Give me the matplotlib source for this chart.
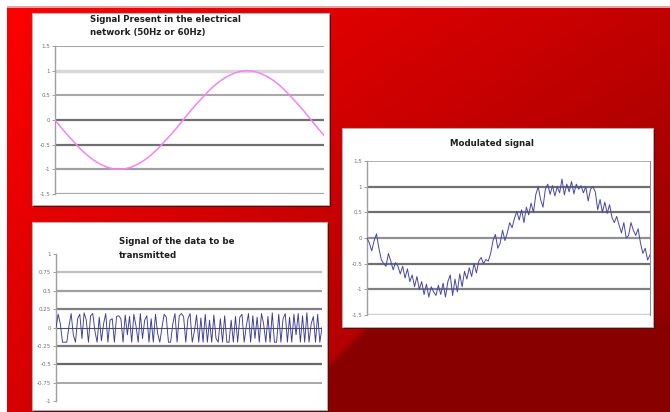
import numpy as np
import matplotlib
matplotlib.use("Agg")
import matplotlib.pyplot as plt
from matplotlib.patches import Rectangle

W, H = 670, 412

# mains carrier, one sample every 9 degrees
carrier = [0, -0.16, -0.31, -0.45, -0.59, -0.71, -0.81, -0.89, -0.95, -0.99, -1,
           -0.99, -0.95, -0.89, -0.81, -0.71, -0.59, -0.45, -0.31, -0.16, 0,
           0.16, 0.31, 0.45, 0.59, 0.71, 0.81, 0.89, 0.95, 0.99, 1,
           0.99, 0.95, 0.89, 0.81, 0.71, 0.59, 0.45, 0.31, 0.16, 0,
           -0.16, -0.31]
carrier_ticks = [1.5, 1, 0.5, 0, -0.5, -1, -1.5]
carrier_labels = ["1.5", "1", "0.5", "0", "-0.5", "-1", "-1.5"]

# data to be sent
data_signal = [0.0, 0.18, 0.05, -0.2, -0.2, -0.2, 0.02, 0.19, -0.1, -0.2, 0.12, 0.18,
               -0.15, 0.2, 0.1, -0.2, 0.16, 0.19, -0.05, -0.2, 0.14, -0.18, 0.05, 0.19,
               -0.2, 0.1, 0.12, -0.2, 0.15, 0.16, 0.12, -0.2, 0.17, -0.1, 0.15, -0.2,
               0.18, 0.02, -0.2, 0.19, -0.15, 0.1, 0.16, -0.2, 0.12, -0.2, 0.18, -0.08,
               -0.2, 0.0, 0.18, 0.14, -0.2, -0.2, 0.05, 0.19, -0.2, 0.16, 0.19, 0.15,
               -0.2, 0.12, 0.19, -0.2, -0.05, 0.17, -0.2, 0.13, -0.2, 0.18, -0.2, 0.1,
               -0.2, 0.17, -0.15, -0.2, 0.12, -0.2, 0.16, -0.2, -0.2, 0.1, -0.2, 0.15,
               -0.2, 0.14, 0.18, -0.2, 0.02, 0.19, -0.2, 0.16, -0.15, 0.14, -0.2, 0.19,
               0.05, -0.2, 0.15, -0.2, 0.2, -0.2, -0.2, 0.18, -0.2, 0.12, 0.19, -0.2,
               0.14, -0.2, 0.18, -0.1, 0.19, -0.2, 0.16, -0.2, 0.2, -0.2, 0.05, 0.15,
               -0.2, 0.18, -0.2, 0.0]
data_ticks = [1, 0.75, 0.5, 0.25, 0, -0.25, -0.5, -0.75, -1]
data_labels = ["1", "0.75", "0.5", "0.25", "0", "-0.25", "-0.5", "-0.75", "-1"]

# carrier + data
modulated = [0.0, -0.1, -0.25, -0.05, 0.08, -0.2,
             -0.42, -0.5, -0.55, -0.3, -0.45, -0.62, -0.48, -0.55, -0.7,
             -0.55, -0.78, -0.6, -0.85, -0.72, -0.95, -0.75, -1.0,
             -0.85, -1.1, -0.9, -1.15, -0.95, -1.05, -1.12, -0.92, -1.1, -0.88, -1.15,
             -0.85, -0.72, -1.12, -0.8, -1.05, -0.7, -0.95, -0.65, -0.8,
             -0.58, -0.75, -0.5, -0.68, -0.45, -0.38, -0.5, -0.42,
             -0.45, -0.3, -0.05, 0.07, -0.2, -0.1, 0.15, -0.05,
             0.1, 0.3, 0.2, 0.38, 0.52, 0.35, 0.55, 0.3, 0.6, 0.45,
             0.68, 0.5, 0.85, 1.0, 0.75, 0.6, 0.95, 1.05, 0.85, 1.02,
             0.82, 1.0, 0.88, 1.15, 0.84, 1.05, 0.9, 1.1, 0.86, 1.05, 0.95, 1.02,
             0.88, 1.0, 0.72, 0.95, 1.0, 0.9, 0.55, 0.75, 0.5, 0.7,
             0.48, 0.65, 0.4, 0.3, 0.42, 0.25, 0.1, 0.3, 0.0, 0.05,
             0.3, 0.15, 0.05, 0.18, -0.1, -0.3, -0.2, -0.43, -0.33]

fig = plt.figure(figsize=(W / 100, H / 100), dpi=100)

# slide background: red gradient, darker towards the bottom right
bg = fig.add_axes([0, 0, 1, 1])
X, Y = np.meshgrid(np.arange(W) + 0.5, np.arange(H) + 0.5)
u, v = X / W, Y / H
red = 255 - 60 * u - 40 * v - 25 * u * v
dark = np.clip((X + Y - 690) / 10, 0, 1) * np.clip((Y - 318) / 10, 0, 1)
red = red * (1 - dark) + 136 * dark
img = np.zeros((H, W, 3))
img[..., 0] = red / 255
img[Y < 6.5] = 1.0
img[(Y >= 6) & (Y < 8)] = (0.91, 0.63, 0.63)
img[X < 7] = 1.0
bg.imshow(img, extent=(0, W, H, 0), aspect="auto", interpolation="nearest")
bg.set_xlim(0, W)
bg.set_ylim(H, 0)
bg.axis("off")

for x0, y0, x1, y1 in [(32, 13, 329, 205), (32, 222, 327, 410), (342, 128, 653, 327)]:
    bg.add_patch(Rectangle((x0 + 1.5, y0 + 1.5), x1 - x0, y1 - y0, color="#5a0000", lw=0))
    bg.add_patch(Rectangle((x0, y0), x1 - x0, y1 - y0, facecolor="white",
                           edgecolor="#b0b0b0", lw=0.8))


def px_axes(x0, y0, x1, y1):
    return fig.add_axes([x0 / W, 1 - y1 / H, (x1 - x0) / W, (y1 - y0) / H])


def style(ax, ticks, labels, grid_colors, grid_widths):
    ax.set_facecolor("none")
    for s in ["top", "right", "bottom"]:
        ax.spines[s].set_visible(False)
    ax.spines["left"].set_color("#a0a0a0")
    ax.spines["left"].set_linewidth(1.0)
    for level, c, w in zip(ticks, grid_colors, grid_widths):
        ax.axhline(level, color=c, lw=w, zorder=1)
    ax.set_yticks(ticks)
    ax.set_yticklabels(labels)
    ax.set_ylim(min(ticks), max(ticks))
    ax.set_xticks([])
    ax.tick_params(axis="y", length=2, width=0.6, color="#909090", pad=1.5,
                   labelsize=4.0, labelcolor="#707070")


def title(x, y, s, ha="left"):
    fig.text(x / W, 1 - y / H, s, fontsize=6.2, fontweight="bold",
             va="center", ha=ha, color="#1e1e1e")


# electrical network signal
ax1 = px_axes(55, 46, 324, 194)
style(ax1, carrier_ticks, carrier_labels,
      ["#a8a8a8", "#d8d8d8", "#a8a8a8", "#707070", "#707070", "#a0a0a0", "#a8a8a8"],
      [1.5, 2.5, 1.5, 1.6, 1.6, 1.6, 1.6])
ax1.plot(range(len(carrier)), carrier, color="#f484f4", lw=1.1, zorder=3)
ax1.set_xlim(0, len(carrier) - 1)
title(90, 20, "Signal Present in the electrical")
title(90, 33, "network (50Hz or 60Hz)")

# data signal
ax2 = px_axes(56, 254, 322, 401)
style(ax2, data_ticks, data_labels,
      ["none", "#c0c0c0", "#a0a0a0", "#808080", "#505050", "#787878", "#686868", "#a8a8a8", "none"],
      [0, 1.6, 1.6, 1.6, 0.8, 1.6, 1.6, 1.4, 0])
ax2.plot(range(len(data_signal)), data_signal, color="#3a3a9a", lw=0.65, zorder=3)
ax2.set_xlim(0, len(data_signal) - 1)
title(119, 242, "Signal of the data to be")
title(119, 255, "transmitted")

# modulated signal
ax3 = px_axes(367, 161, 650, 315)
style(ax3, carrier_ticks, carrier_labels,
      ["#b0b0b0", "#707070", "#707070", "#909090", "#707070", "#808080", "#d0d0d0"],
      [1.4, 1.6, 1.6, 1.6, 1.6, 1.6, 2.5])
ax3.spines["right"].set_visible(True)
ax3.spines["right"].set_color("#909090")
ax3.spines["right"].set_linewidth(0.8)
ax3.plot(range(len(modulated)), modulated, color="#4646a6", lw=0.7, zorder=3)
ax3.set_xlim(0, len(modulated) - 1)
title(492, 144, "Modulated signal", ha="center")

fig.savefig("out.png", dpi=100)
